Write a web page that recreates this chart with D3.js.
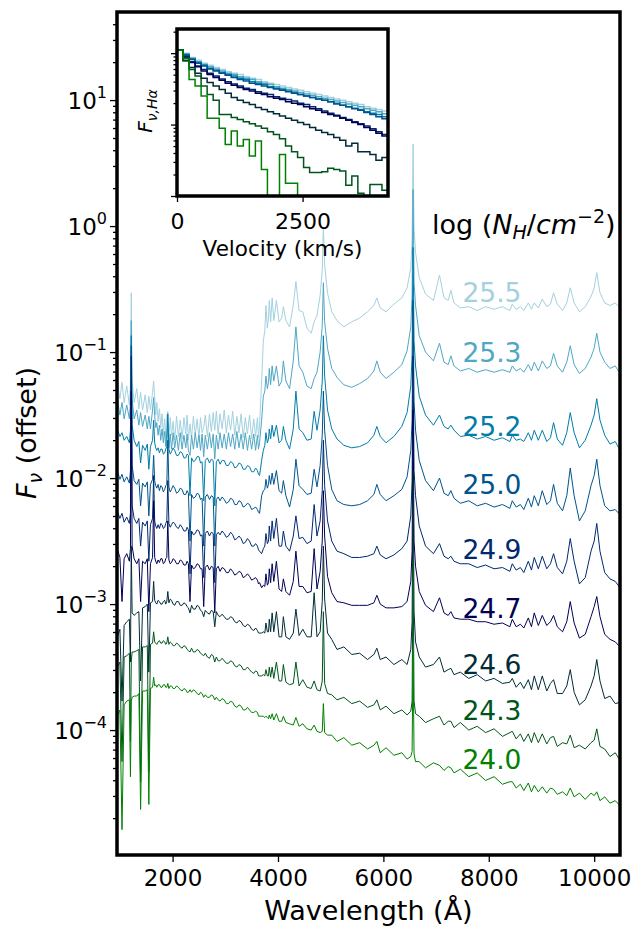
<!DOCTYPE html>
<html>
<head>
<meta charset="utf-8">
<script src="https://cdn.jsdelivr.net/npm/d3@7/dist/d3.min.js"></script>
<style>
  body { margin: 0; background: #fff; }
  svg text { font-family: "DejaVu Sans", sans-serif; fill: #000; }
</style>
</head>
<body>
<svg id="chart" width="634" height="928"></svg>
<script>
// Shared wavelength grid of the model spectra (Angstrom)
const wavelength = [950, 1000, 1040, 1080, 1130, 1180, 1200, 1216, 1232, 1270,
  1320, 1360, 1393, 1430, 1480, 1520, 1549, 1580, 1620, 1640,
  1660, 1680, 1700, 1725, 1750, 1775, 1800, 1825, 1850, 1870, 1890, 1909, 1930, 1955, 1980,
  2010, 2040, 2075, 2110, 2145, 2180, 2215, 2250, 2275, 2300, 2330, 2360, 2395, 2430, 2465,
  2500, 2530, 2560, 2590, 2620, 2660, 2700, 2735, 2770, 2800, 2830, 2865, 2900, 2940, 2980,
  3020, 3060, 3100, 3140, 3180, 3220, 3260, 3300, 3340, 3380, 3420, 3460, 3500, 3540, 3575,
  3610, 3630, 3650,
  3690, 3722, 3750, 3771, 3798, 3820, 3835, 3860, 3889, 3920, 3970,
  4020, 4070, 4102, 4150, 4220, 4290, 4340, 4400, 4471, 4550, 4630, 4686, 4740, 4800, 4840, 4861, 4885, 4940,
  5020, 5120, 5250, 5400, 5550, 5700, 5820, 5876, 5940, 6050, 6200, 6350, 6450, 6520, 6545, 6563, 6582, 6610, 6680, 6800, 6950,
  7065, 7150, 7230, 7281, 7340, 7460, 7620, 7780, 7940, 8100, 8260, 8400, 8446, 8520, 8600, 8665,
  8750, 8810, 8863, 8940, 9015, 9100, 9170, 9229, 9300, 9400, 9480, 9546, 9620, 9720, 9830, 9940, 10000, 10049, 10110, 10200, 10300, 10400, 10490];

// log10 F_nu (with plotting offset) for each column density, on the grid above
const logFlux255 = [-1.23, -1.37, -1.24, -1.40, -1.27, -1.42, -1.27, -0.53, -1.23, -1.40,
  -1.29, -1.45, -1.32, -1.46, -1.34, -1.48, -1.35, -1.46, -1.32, -1.23,
  -1.36, -1.50, -1.40, -1.55, -1.45, -1.60, -1.49, -1.66, -1.53, -1.68, -1.51, -1.47, -1.69, -1.52, -1.66,
  -1.55, -1.70, -1.51, -1.67, -1.54, -1.69, -1.52, -1.65, -1.50, -1.70, -1.57, -1.68, -1.51, -1.66, -1.53,
  -1.69, -1.52, -1.64, -1.60, -1.50, -1.67, -1.49, -1.63, -1.48, -1.62, -1.47, -1.65, -1.49, -1.61, -1.46,
  -1.64, -1.50, -1.62, -1.47, -1.66, -1.51, -1.64, -1.49, -1.68, -1.52, -1.65, -1.50, -1.69, -1.53, -1.67,
  -1.52, -1.68, -1.58,
  -1.23, -0.91, -0.83, -0.63, -0.81, -0.73, -0.59, -0.76, -0.57, -0.75, -0.59,
  -0.76, -0.73, -0.64, -0.75, -0.80, -0.63, -0.44, -0.67, -0.68, -0.81, -0.85, -0.76, -0.71, -0.55, -0.35, -0.01, -0.31, -0.53,
  -0.68, -0.75, -0.80, -0.76, -0.73, -0.68, -0.63, -0.57, -0.65, -0.68, -0.62, -0.57, -0.49, -0.33, -0.11, 0.65, -0.02, -0.21, -0.41, -0.54, -0.59,
  -0.39, -0.57, -0.59, -0.51, -0.61, -0.65, -0.64, -0.67, -0.64, -0.66, -0.64, -0.67, -0.62, -0.66, -0.64, -0.67,
  -0.61, -0.66, -0.61, -0.65, -0.58, -0.64, -0.62, -0.53, -0.62, -0.67, -0.61, -0.49, -0.61, -0.68, -0.64, -0.56, -0.49, -0.37, -0.53, -0.61, -0.63, -0.61, -0.65];
const logFlux253 = [-1.37, -1.50, -1.40, -1.53, -1.42, -1.53, -1.40, -0.75, -1.37, -1.53,
  -1.46, -1.58, -1.48, -1.59, -1.50, -1.61, -1.51, -1.61, -1.46, -1.36,
  -1.50, -1.60, -1.56, -1.66, -1.58, -1.70, -1.61, -1.72, -1.63, -1.75, -1.64, -1.56, -1.76, -1.65, -1.77,
  -1.64, -1.76, -1.66, -1.78, -1.64, -1.77, -1.66, -1.76, -1.65, -1.78, -1.82, -1.66, -1.77, -1.64, -1.76,
  -1.66, -1.78, -1.65, -1.83, -1.66, -1.77, -1.64, -1.76, -1.65, -1.85, -1.66, -1.77, -1.64, -1.76, -1.65,
  -1.77, -1.64, -1.75, -1.65, -1.77, -1.63, -1.76, -1.65, -1.77, -1.64, -1.78, -1.66, -1.77, -1.65, -1.78,
  -1.66, -1.77, -1.72,
  -1.54, -1.35, -1.31, -1.19, -1.29, -1.24, -1.13, -1.26, -1.11, -1.23, -1.11,
  -1.27, -1.23, -1.07, -1.23, -1.29, -1.07, -0.80, -1.11, -1.16, -1.27, -1.29, -1.21, -1.16, -1.00, -0.79, -0.45, -0.76, -0.97,
  -1.13, -1.20, -1.26, -1.28, -1.25, -1.21, -1.15, -1.07, -1.16, -1.21, -1.16, -1.10, -0.99, -0.80, -0.55, 0.29, -0.45, -0.63, -0.87, -1.00, -1.07,
  -0.93, -1.08, -1.10, -1.03, -1.11, -1.15, -1.13, -1.16, -1.14, -1.16, -1.14, -1.16, -1.11, -1.15, -1.13, -1.16,
  -1.10, -1.15, -1.08, -1.15, -1.07, -1.13, -1.11, -1.01, -1.11, -1.16, -1.08, -0.95, -1.10, -1.17, -1.13, -1.04, -0.97, -0.85, -1.00, -1.08, -1.13, -1.11, -1.17];
const logFlux252 = [-1.61, -1.67, -1.64, -1.70, -1.67, -1.72, -1.62, -0.87, -1.58, -1.70,
  -1.75, -1.71, -1.88, -1.74, -1.78, -1.73, -1.93, -1.75, -1.70, -1.54,
  -1.72, -1.76, -1.78, -1.76, -1.80, -1.77, -1.77, -1.81, -1.80, -1.77, -1.75, -1.49, -1.77, -1.81, -1.79,
  -1.76, -1.78, -1.82, -1.82, -1.79, -1.80, -1.84, -1.84, -1.81, -1.82, -2.14, -1.84, -1.87, -1.86, -1.83,
  -1.83, -1.88, -1.87, -2.18, -1.86, -1.84, -1.88, -1.85, -1.86, -2.22, -1.87, -1.85, -1.89, -1.86, -1.86,
  -1.90, -1.90, -1.87, -1.88, -1.92, -1.91, -1.88, -1.89, -1.93, -1.93, -1.90, -1.91, -1.95, -1.95, -1.92,
  -1.94, -1.97, -1.98,
  -1.86, -1.78, -1.74, -1.64, -1.72, -1.69, -1.61, -1.69, -1.58, -1.67, -1.58,
  -1.72, -1.70, -1.59, -1.70, -1.77, -1.61, -1.31, -1.61, -1.64, -1.70, -1.69, -1.47, -1.62, -1.46, -1.23, -0.87, -1.19, -1.46,
  -1.61, -1.69, -1.74, -1.76, -1.75, -1.72, -1.66, -1.59, -1.67, -1.72, -1.67, -1.59, -1.48, -1.27, -1.03, -0.17, -0.91, -1.11, -1.35, -1.50, -1.58,
  -1.50, -1.59, -1.61, -1.58, -1.62, -1.67, -1.66, -1.69, -1.67, -1.70, -1.68, -1.71, -1.66, -1.70, -1.69, -1.71,
  -1.64, -1.70, -1.62, -1.70, -1.62, -1.71, -1.68, -1.56, -1.69, -1.74, -1.64, -1.48, -1.64, -1.76, -1.70, -1.58, -1.50, -1.37, -1.54, -1.66, -1.73, -1.71, -1.78];
const logFlux250 = [-1.94, -2.01, -1.97, -2.03, -1.99, -2.04, -1.94, -0.95, -1.90, -2.02,
  -2.05, -2.01, -2.22, -2.04, -2.07, -2.03, -2.30, -2.05, -2.01, -1.82,
  -2.02, -2.06, -2.08, -2.05, -2.10, -2.06, -2.07, -2.11, -2.09, -2.06, -2.05, -1.70, -2.07, -2.11, -2.09,
  -2.06, -2.08, -2.12, -2.11, -2.08, -2.09, -2.13, -2.13, -2.10, -2.12, -2.50, -2.13, -2.16, -2.15, -2.12,
  -2.13, -2.17, -2.16, -2.54, -2.15, -2.13, -2.17, -2.14, -2.15, -2.54, -2.17, -2.15, -2.18, -2.15, -2.17,
  -2.20, -2.19, -2.16, -2.17, -2.21, -2.21, -2.18, -2.19, -2.23, -2.22, -2.20, -2.21, -2.25, -2.24, -2.23,
  -2.25, -2.27, -2.28,
  -2.14, -2.10, -2.09, -2.01, -2.08, -2.05, -1.98, -2.05, -1.96, -2.05, -1.94,
  -2.10, -2.12, -2.02, -2.14, -2.23, -2.09, -1.85, -2.06, -2.09, -2.13, -2.12, -1.93, -2.07, -1.90, -1.66, -1.31, -1.62, -1.90,
  -2.09, -2.18, -2.21, -2.22, -2.21, -2.18, -2.13, -2.05, -2.13, -2.18, -2.14, -2.09, -1.99, -1.78, -1.54, -0.59, -1.39, -1.62, -1.86, -2.02, -2.10,
  -2.00, -2.12, -2.14, -2.10, -2.16, -2.20, -2.18, -2.22, -2.20, -2.23, -2.21, -2.24, -2.18, -2.23, -2.21, -2.25,
  -2.16, -2.23, -2.14, -2.22, -2.10, -2.21, -2.18, -2.05, -2.20, -2.26, -2.14, -1.92, -2.14, -2.34, -2.26, -2.06, -1.98, -1.85, -2.06, -2.22, -2.26, -2.25, -2.29];
const logFlux249 = [-2.26, -2.32, -2.28, -2.35, -2.31, -2.36, -2.28, -1.03, -2.22, -2.32,
  -2.36, -2.32, -2.54, -2.35, -2.38, -2.34, -2.66, -2.37, -2.32, -1.98,
  -2.34, -2.38, -2.40, -2.37, -2.40, -2.36, -2.37, -2.40, -2.39, -2.36, -2.34, -2.02, -2.36, -2.39, -2.37,
  -2.35, -2.36, -2.39, -2.40, -2.37, -2.39, -2.42, -2.42, -2.39, -2.41, -2.76, -2.42, -2.45, -2.44, -2.41,
  -2.42, -2.46, -2.45, -2.79, -2.44, -2.42, -2.46, -2.43, -2.44, -2.83, -2.45, -2.43, -2.45, -2.42, -2.44,
  -2.47, -2.46, -2.43, -2.45, -2.49, -2.48, -2.46, -2.48, -2.52, -2.51, -2.48, -2.50, -2.54, -2.54, -2.52,
  -2.54, -2.57, -2.58,
  -2.60, -2.56, -2.54, -2.44, -2.52, -2.50, -2.38, -2.50, -2.34, -2.48, -2.32,
  -2.54, -2.54, -2.42, -2.54, -2.58, -2.46, -2.30, -2.48, -2.47, -2.52, -2.50, -2.21, -2.46, -2.34, -2.10, -1.70, -2.06, -2.34,
  -2.50, -2.58, -2.60, -2.63, -2.63, -2.62, -2.60, -2.54, -2.61, -2.64, -2.61, -2.56, -2.50, -2.30, -2.02, -1.03, -1.94, -2.14, -2.38, -2.54, -2.60,
  -2.52, -2.62, -2.64, -2.62, -2.66, -2.68, -2.68, -2.71, -2.69, -2.72, -2.71, -2.74, -2.68, -2.73, -2.71, -2.75,
  -2.66, -2.73, -2.63, -2.72, -2.62, -2.72, -2.68, -2.60, -2.71, -2.76, -2.66, -2.48, -2.66, -2.84, -2.79, -2.58, -2.50, -2.36, -2.58, -2.75, -2.80, -2.82, -2.87];
const logFlux247 = [-2.56, -2.63, -2.98, -2.64, -2.60, -2.66, -2.56, -1.31, -2.54, -2.64,
  -2.68, -2.64, -2.98, -2.66, -2.68, -2.64, -3.06, -2.68, -2.63, -2.18,
  -2.63, -2.66, -2.68, -2.65, -2.67, -2.64, -2.64, -2.68, -2.67, -2.64, -2.63, -2.34, -2.65, -2.68, -2.67,
  -2.64, -2.65, -2.68, -2.68, -2.65, -2.66, -2.69, -2.69, -2.66, -2.68, -2.98, -2.69, -2.72, -2.71, -2.68,
  -2.69, -2.72, -2.72, -3.02, -2.71, -2.69, -2.73, -2.70, -2.71, -3.07, -2.72, -2.70, -2.74, -2.71, -2.72,
  -2.75, -2.75, -2.72, -2.74, -2.77, -2.76, -2.74, -2.75, -2.79, -2.78, -2.76, -2.78, -2.81, -2.80, -2.79,
  -2.81, -2.84, -2.83,
  -2.87, -2.85, -2.86, -2.76, -2.85, -2.83, -2.72, -2.83, -2.68, -2.82, -2.66,
  -2.88, -2.90, -2.80, -2.90, -2.93, -2.82, -2.58, -2.86, -2.86, -2.91, -2.90, -2.56, -2.88, -2.74, -2.50, -2.10, -2.46, -2.78,
  -2.91, -2.98, -2.99, -3.01, -3.01, -3.01, -2.99, -2.93, -3.00, -3.03, -3.03, -3.02, -2.98, -2.82, -2.58, -1.46, -2.50, -2.70, -2.90, -3.01, -3.06,
  -2.95, -3.07, -3.09, -3.06, -3.11, -3.12, -3.12, -3.14, -3.14, -3.16, -3.15, -3.18, -3.12, -3.18, -3.16, -3.19,
  -3.11, -3.18, -3.07, -3.17, -3.09, -3.17, -3.14, -3.09, -3.18, -3.22, -3.14, -2.98, -3.15, -3.27, -3.24, -3.10, -3.02, -2.94, -3.10, -3.24, -3.28, -3.30, -3.34];
const logFlux246 = [-3.26, -3.20, -3.77, -3.17, -3.14, -3.12, -3.46, -2.54, -3.07, -3.09,
  -3.07, -3.06, -3.61, -3.03, -3.02, -3.00, -3.54, -2.99, -2.98, -2.82,
  -2.97, -2.99, -3.00, -2.97, -2.98, -3.00, -3.00, -2.98, -2.97, -3.00, -2.98, -2.90, -2.99, -2.96, -2.97,
  -3.00, -3.01, -2.98, -2.98, -3.01, -3.01, -2.99, -3.00, -3.02, -3.03, -3.07, -3.01, -3.04, -3.04, -3.01,
  -3.02, -3.05, -3.06, -3.10, -3.05, -3.07, -3.08, -3.05, -3.06, -3.18, -3.06, -3.09, -3.10, -3.08, -3.10,
  -3.12, -3.12, -3.10, -3.11, -3.14, -3.15, -3.13, -3.14, -3.17, -3.18, -3.16, -3.17, -3.20, -3.21, -3.19,
  -3.21, -3.23, -3.23,
  -3.23, -3.22, -3.23, -3.15, -3.22, -3.22, -3.12, -3.22, -3.07, -3.22, -3.06,
  -3.26, -3.26, -3.10, -3.26, -3.28, -3.23, -3.04, -3.25, -3.20, -3.26, -3.26, -2.91, -3.26, -3.22, -2.98, -2.54, -2.96, -3.23,
  -3.28, -3.36, -3.34, -3.40, -3.39, -3.44, -3.40, -3.35, -3.44, -3.42, -3.48, -3.44, -3.48, -3.36, -3.14, -1.94, -3.06, -3.30, -3.42, -3.50, -3.48,
  -3.42, -3.54, -3.52, -3.51, -3.56, -3.54, -3.59, -3.56, -3.61, -3.59, -3.63, -3.62, -3.59, -3.66, -3.62, -3.67,
  -3.60, -3.68, -3.57, -3.68, -3.57, -3.69, -3.63, -3.60, -3.71, -3.71, -3.65, -3.52, -3.70, -3.80, -3.76, -3.65, -3.57, -3.44, -3.61, -3.75, -3.73, -3.79, -3.78];
const logFlux243 = [-3.50, -3.46, -4.25, -3.42, -3.41, -3.39, -4.09, -3.46, -3.38, -3.38,
  -3.37, -3.36, -4.41, -3.34, -3.34, -3.33, -4.33, -3.32, -3.31, -3.22,
  -3.30, -3.31, -3.32, -3.30, -3.29, -3.31, -3.31, -3.29, -3.30, -3.32, -3.31, -3.26, -3.32, -3.30, -3.31,
  -3.33, -3.33, -3.31, -3.32, -3.34, -3.35, -3.33, -3.34, -3.36, -3.37, -3.38, -3.35, -3.38, -3.38, -3.36,
  -3.37, -3.39, -3.40, -3.41, -3.39, -3.42, -3.43, -3.40, -3.41, -3.46, -3.42, -3.45, -3.45, -3.43, -3.45,
  -3.47, -3.47, -3.45, -3.46, -3.49, -3.50, -3.48, -3.49, -3.52, -3.52, -3.50, -3.52, -3.54, -3.55, -3.53,
  -3.54, -3.57, -3.57,
  -3.57, -3.56, -3.57, -3.52, -3.57, -3.57, -3.50, -3.58, -3.50, -3.59, -3.46,
  -3.61, -3.61, -3.48, -3.62, -3.64, -3.63, -3.46, -3.65, -3.60, -3.66, -3.67, -3.61, -3.68, -3.69, -3.61, -3.06, -3.63, -3.71,
  -3.72, -3.76, -3.74, -3.79, -3.77, -3.82, -3.80, -3.76, -3.84, -3.81, -3.87, -3.84, -3.88, -3.85, -3.77, -2.66, -3.77, -3.87, -3.89, -3.94, -3.91,
  -3.89, -3.96, -3.93, -3.93, -3.98, -3.94, -4.00, -3.97, -4.02, -3.99, -4.05, -4.02, -4.01, -4.07, -4.03, -4.09,
  -4.03, -4.10, -4.02, -4.10, -4.03, -4.11, -4.06, -4.05, -4.13, -4.10, -4.11, -4.04, -4.14, -4.12, -4.15, -4.10, -4.08, -3.99, -4.13, -4.15, -4.21, -4.18, -4.24];
const logFlux240 = [-3.89, -3.84, -4.79, -3.80, -3.77, -3.76, -4.37, -3.77, -3.74, -3.73,
  -3.73, -3.71, -4.63, -3.69, -3.69, -3.68, -4.59, -3.67, -3.66, -3.58,
  -3.65, -3.64, -3.66, -3.64, -3.64, -3.66, -3.66, -3.64, -3.64, -3.66, -3.66, -3.63, -3.67, -3.65, -3.65,
  -3.67, -3.67, -3.65, -3.66, -3.68, -3.69, -3.67, -3.68, -3.70, -3.70, -3.68, -3.70, -3.68, -3.69, -3.71,
  -3.72, -3.70, -3.71, -3.74, -3.72, -3.74, -3.74, -3.72, -3.73, -3.76, -3.74, -3.76, -3.77, -3.75, -3.76,
  -3.79, -3.79, -3.77, -3.78, -3.81, -3.82, -3.80, -3.81, -3.84, -3.84, -3.82, -3.84, -3.86, -3.86, -3.85,
  -3.86, -3.89, -3.89,
  -3.89, -3.89, -3.90, -3.89, -3.90, -3.91, -3.88, -3.91, -3.87, -3.92, -3.87,
  -3.93, -3.93, -3.89, -3.94, -3.95, -3.96, -3.90, -3.97, -3.95, -3.99, -4.00, -3.96, -4.01, -4.02, -4.01, -3.79, -4.02, -4.04,
  -4.04, -4.09, -4.06, -4.12, -4.10, -4.15, -4.12, -4.09, -4.18, -4.14, -4.20, -4.18, -4.23, -4.21, -4.17, -3.38, -4.19, -4.25, -4.25, -4.30, -4.26,
  -4.28, -4.32, -4.29, -4.30, -4.34, -4.31, -4.37, -4.34, -4.40, -4.37, -4.43, -4.41, -4.41, -4.46, -4.43, -4.48,
  -4.42, -4.49, -4.44, -4.49, -4.45, -4.50, -4.46, -4.47, -4.51, -4.49, -4.52, -4.46, -4.53, -4.50, -4.55, -4.50, -4.52, -4.49, -4.56, -4.53, -4.58, -4.56, -4.60];

// H-alpha line profiles: velocity bin edges (km/s) and log10 normalised flux per bin
const velocityEdges = [0, 120, 240, 360, 480, 600, 720, 840, 960, 1080, 1200, 1320,
  1440, 1560, 1680, 1800, 1920, 2040, 2160, 2280, 2400, 2520, 2640, 2760, 2880,
  3000, 3120, 3240, 3360, 3480, 3600, 3720, 3840, 3960, 4080, 4200];
const halpha255 = [0.04, 0.00, -0.06, -0.10, -0.14, -0.17, -0.20, -0.23, -0.26, -0.28, -0.30, -0.33,
  -0.35, -0.37, -0.40, -0.42, -0.44, -0.46, -0.48, -0.50, -0.52, -0.54, -0.56, -0.58,
  -0.60, -0.62, -0.64, -0.66, -0.68, -0.70, -0.72, -0.75, -0.77, -0.79, -0.81];
const halpha253 = [0.04, -0.01, -0.07, -0.12, -0.16, -0.19, -0.22, -0.25, -0.28, -0.30, -0.33, -0.35,
  -0.37, -0.40, -0.42, -0.44, -0.47, -0.49, -0.51, -0.53, -0.55, -0.57, -0.59, -0.61,
  -0.63, -0.65, -0.67, -0.69, -0.71, -0.73, -0.75, -0.78, -0.80, -0.82, -0.85];
const halpha252 = [0.04, -0.02, -0.08, -0.13, -0.17, -0.21, -0.24, -0.27, -0.30, -0.32, -0.35, -0.37,
  -0.40, -0.42, -0.44, -0.47, -0.49, -0.51, -0.53, -0.55, -0.58, -0.60, -0.62, -0.64,
  -0.66, -0.68, -0.70, -0.73, -0.75, -0.77, -0.79, -0.82, -0.84, -0.86, -0.89];
const halpha250 = [0.04, -0.03, -0.09, -0.14, -0.18, -0.22, -0.25, -0.28, -0.31, -0.34, -0.37, -0.39,
  -0.42, -0.44, -0.46, -0.48, -0.50, -0.52, -0.54, -0.56, -0.58, -0.60, -0.62, -0.64,
  -0.66, -0.68, -0.71, -0.73, -0.75, -0.78, -0.80, -0.83, -0.86, -0.89, -0.92];
const halpha249 = [0.04, -0.05, -0.12, -0.18, -0.23, -0.28, -0.32, -0.36, -0.40, -0.43, -0.46, -0.49,
  -0.51, -0.54, -0.56, -0.58, -0.61, -0.63, -0.65, -0.67, -0.70, -0.72, -0.75, -0.78,
  -0.81, -0.84, -0.87, -0.90, -0.93, -0.96, -0.99, -1.02, -1.06, -1.10, -1.14];
const halpha247 = [0.04, -0.06, -0.13, -0.19, -0.25, -0.30, -0.34, -0.38, -0.42, -0.45, -0.48, -0.51,
  -0.53, -0.56, -0.58, -0.61, -0.63, -0.65, -0.68, -0.70, -0.72, -0.75, -0.78, -0.80,
  -0.83, -0.86, -0.88, -0.91, -0.94, -0.97, -1.00, -1.04, -1.08, -1.12, -1.16];
const halpha246 = [0.04, -0.10, -0.20, -0.28, -0.35, -0.41, -0.46, -0.51, -0.56, -0.62, -0.66, -0.69,
  -0.72, -0.76, -0.79, -0.82, -0.85, -0.88, -0.91, -0.94, -0.97, -1.00, -1.04, -1.08,
  -1.11, -1.14, -1.18, -1.22, -1.30, -1.26, -1.38, -1.38, -1.42, -1.50, -1.46];
const halpha243 = [0.04, -0.11, -0.23, -0.32, -0.46, -0.58, -0.66, -0.86, -0.86, -0.90, -0.93, -0.96,
  -0.99, -1.02, -1.05, -1.10, -1.14, -1.20, -1.30, -1.38, -1.46, -1.60, -1.67, -1.67,
  -1.66, -1.61, -1.63, -1.65, -1.85, -1.72, -1.96, -2.50, -1.84, -1.84, -1.92];
const halpha240 = [0.04, -0.07, -0.37, -0.46, -0.60, -0.91, -0.91, -1.05, -1.28, -1.09, -1.30, -1.21,
  -1.44, -1.23, -1.63, -2.50, -2.50, -1.42, -1.82, -1.82, -3.00, -3.00, -3.00, -3.00,
  -3.00, -3.00, -3.00, -3.00, -3.00, -3.00, -3.00, -3.00, -3.00, -3.00, -3.00];

// Column-density labels and line colours (ocean colormap, 0 to 0.88)
const columnDensity = ["25.5", "25.3", "25.2", "25.0", "24.9", "24.7", "24.6", "24.3", "24.0"];
const colors = ["#a3d1e0", "#4fa7c4", "#007da8", "#00538c", "#002970", "#000154", "#002b38", "#00551c", "#008000"];
const spectraValues = [logFlux255, logFlux253, logFlux252, logFlux250, logFlux249, logFlux247, logFlux246, logFlux243, logFlux240];
const halphaValues = [halpha255, halpha253, halpha252, halpha250, halpha249, halpha247, halpha246, halpha243, halpha240];
// Label anchors in data coordinates (wavelength, flux) for the column-density annotations
const labelX = 7500;
const labelFlux = [0.248, 0.084, 0.0217, 0.0075, 0.00228, 0.00077, 0.00028, 0.000121, 0.000049];

const svg = d3.select("#chart");
const M = { left: 117, right: 620, top: 12, bottom: 855 };
const I = { left: 177, right: 388, top: 29, bottom: 196 };

const x = d3.scaleLinear().domain([945, 10490]).range([M.left, M.right]);
const y = d3.scaleLog().domain([1.02e-5, 50]).range([M.bottom, M.top]);
const xi = d3.scaleLinear().domain([0, 4200]).range([I.left, I.right]);
const yi = d3.scaleLog().domain([0.01, 2.18]).range([I.bottom, I.top]);

const defs = svg.append("defs");
defs.append("clipPath").attr("id", "clipMain").append("rect")
  .attr("x", M.left).attr("y", M.top).attr("width", M.right - M.left).attr("height", M.bottom - M.top);
defs.append("clipPath").attr("id", "clipInset").append("rect")
  .attr("x", I.left).attr("y", I.top).attr("width", I.right - I.left).attr("height", I.bottom - I.top);

// ---- spectra
const spec = d3.line().x((d, i) => x(wavelength[i])).y(d => y(Math.pow(10, d)));
const gSpec = svg.append("g").attr("clip-path", "url(#clipMain)");
spectraValues.forEach((vals, k) => {
  gSpec.append("path").attr("d", spec(vals)).attr("fill", "none")
    .attr("stroke", colors[k]).attr("stroke-width", 1.0).attr("stroke-linejoin", "round");
});

// ---- column-density labels
columnDensity.forEach((lab, k) => {
  svg.append("text").attr("x", x(labelX)).attr("y", y(labelFlux[k]))
    .style("font-size", "26.5px").style("fill", colors[k]).text(lab);
});
const legendTitle = svg.append("text").attr("x", 432).attr("y", 234).style("font-size", "27px");
legendTitle.append("tspan").text("log (");
legendTitle.append("tspan").style("font-style", "italic").text("N");
legendTitle.append("tspan").style("font-style", "italic").style("font-size", "19px").attr("dy", 5).text("H");
legendTitle.append("tspan").attr("dy", -5).text("/");
legendTitle.append("tspan").style("font-style", "italic").text("cm");
legendTitle.append("tspan").style("font-size", "19px").attr("dy", -11).text("\u22122");
legendTitle.append("tspan").attr("dy", 11).text(")");

// ---- main axes ticks
function styleTicks(g) {
  g.select(".domain").remove();
  g.selectAll(".tick line").attr("stroke", "#000").attr("stroke-width", 1.3);
}
const yMajor = [1e-4, 1e-3, 1e-2, 1e-1, 1, 10];
const yMinor = [];
for (let e = -5; e <= 1; e++) for (let m = 2; m <= 9; m++) {
  const v = m * Math.pow(10, e);
  if (v > y.domain()[0] && v < y.domain()[1]) yMinor.push(v);
}
svg.append("g").attr("transform", `translate(${M.left},0)`)
  .call(d3.axisLeft(y).tickValues(yMajor).tickSize(7).tickFormat(""))
  .call(styleTicks);
svg.append("g").attr("transform", `translate(${M.left},0)`)
  .call(d3.axisLeft(y).tickValues(yMinor).tickSize(4).tickFormat(""))
  .call(styleTicks);
yMajor.forEach(v => {
  const e = Math.round(Math.log10(v));
  const t = svg.append("text").attr("x", 107).attr("y", y(v) + 8.5)
    .attr("text-anchor", "end").style("font-size", "23px");
  t.append("tspan").text("10");
  t.append("tspan").attr("dy", -10.5).style("font-size", "16px").text(e < 0 ? "\u2212" + (-e) : String(e));
});
const gx = svg.append("g").attr("transform", `translate(0,${M.bottom})`)
  .call(d3.axisBottom(x).tickValues([2000, 4000, 6000, 8000, 10000]).tickSize(7).tickPadding(8).tickFormat(d3.format("d")))
  .call(styleTicks);
gx.selectAll("text").style("font-size", "23px").attr("fill", "#000").style("font-family", "DejaVu Sans");

svg.append("rect").attr("x", M.left).attr("y", M.top)
  .attr("width", M.right - M.left).attr("height", M.bottom - M.top)
  .attr("fill", "none").attr("stroke", "#000").attr("stroke-width", 3.5);

svg.append("text").attr("x", (M.left + M.right) / 2).attr("y", 920)
  .attr("text-anchor", "middle").style("font-size", "27px").text("Wavelength (\u00c5)");
const yl = svg.append("text").attr("transform", "translate(36,433) rotate(-90)")
  .attr("text-anchor", "middle").style("font-size", "27px");
yl.append("tspan").style("font-style", "italic").text("F");
yl.append("tspan").style("font-style", "italic").style("font-size", "19px").attr("dy", 6).text("\u03bd");
yl.append("tspan").attr("dy", -6).text(" (offset)");

// ---- inset: H-alpha profiles
svg.append("rect").attr("x", I.left).attr("y", I.top)
  .attr("width", I.right - I.left).attr("height", I.bottom - I.top).attr("fill", "#fff");
const step = d3.line().x(d => xi(d[0])).y(d => yi(Math.pow(10, d[1]))).curve(d3.curveStepAfter);
const gIn = svg.append("g").attr("clip-path", "url(#clipInset)");
halphaValues.forEach((vals, k) => {
  const pts = vals.map((v, i) => [velocityEdges[i], v]);
  pts.push([velocityEdges[vals.length], vals[vals.length - 1]]);
  gIn.append("path").attr("d", step(pts)).attr("fill", "none")
    .attr("stroke", colors[k]).attr("stroke-width", 1.5);
});
const yiMajor = [0.01, 0.1, 1];
const yiMinor = [];
for (let e = -2; e <= 0; e++) for (let m = 2; m <= 9; m++) {
  const v = m * Math.pow(10, e);
  if (v < yi.domain()[1]) yiMinor.push(v);
}
svg.append("g").attr("transform", `translate(${I.left},0)`)
  .call(d3.axisLeft(yi).tickValues(yiMajor).tickSize(6).tickFormat("")).call(styleTicks);
svg.append("g").attr("transform", `translate(${I.left},0)`)
  .call(d3.axisLeft(yi).tickValues(yiMinor).tickSize(3.5).tickFormat("")).call(styleTicks);
const gxi = svg.append("g").attr("transform", `translate(0,${I.bottom})`)
  .call(d3.axisBottom(xi).tickValues([0, 2500]).tickSize(6).tickPadding(11).tickFormat(d3.format("d")))
  .call(styleTicks);
gxi.selectAll("text").style("font-size", "22px").attr("fill", "#000").style("font-family", "DejaVu Sans");
svg.append("rect").attr("x", I.left).attr("y", I.top)
  .attr("width", I.right - I.left).attr("height", I.bottom - I.top)
  .attr("fill", "none").attr("stroke", "#000").attr("stroke-width", 3.5);
svg.append("text").attr("x", (I.left + I.right) / 2).attr("y", 256)
  .attr("text-anchor", "middle").style("font-size", "21.5px").text("Velocity (km/s)");
const yil = svg.append("text").attr("transform", "translate(152,111) rotate(-90)")
  .attr("text-anchor", "middle").style("font-size", "20px");
yil.append("tspan").style("font-style", "italic").text("F");
yil.append("tspan").style("font-style", "italic").style("font-size", "14px").attr("dy", 5).text("\u03bd,H\u03b1");
</script>
</body>
</html>
